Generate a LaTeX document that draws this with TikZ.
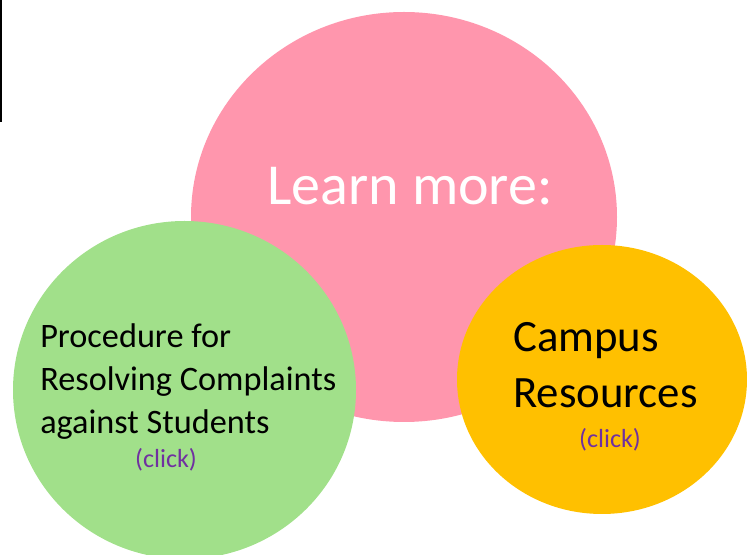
\documentclass[tikz,border=0pt]{standalone}
\usepackage{fontspec}
\setmainfont{Carlito}
\usepackage{tikz}
\usetikzlibrary{positioning}
\definecolor{pinkfill}{RGB}{255,150,173}
\definecolor{greenfill}{RGB}{161,224,138}
\definecolor{goldfill}{RGB}{255,192,0}
\definecolor{clickpurple}{RGB}{112,48,160}

\begin{document}
\begin{tikzpicture}[x=0.75pt, y=-0.75pt,
  label/.style={inner sep=0pt, align=left},
  clicktext/.style={inner sep=0pt, anchor=base, text=clickpurple, font=\fontsize{19.6}{23}\selectfont}]
\useasboundingbox (0,0) rectangle (747,555);
\draw[line width=1.5pt] (0.75,0)--(0.75,122);
% the three bubbles
\fill[pinkfill] (404,217) ellipse [x radius=213, y radius=205];
\fill[greenfill] (184.5,390) ellipse [x radius=171.5, y radius=169];
\fill[goldfill] (602,379.5) ellipse [x radius=145, y radius=134.5];
% base anchor of a multi-line node sits on its last line
\node[label, anchor=base, text=white, font=\fontsize{43.5}{50}\selectfont] (learn) at (410,205) {Learn more:};
\node[label, anchor=base west, font=\fontsize{25.7}{32.25}\selectfont] (proc) at (40,433.3) {Procedure for\\Resolving Complaints\\against Students};
\node[clicktext] (procclick) at (166,468) {(click)};
\node[label, anchor=base west, font=\fontsize{33.6}{42}\selectfont] (campus) at (513,408) {Campus\\Resources};
\node[clicktext] (campusclick) at (610,448) {(click)};
\end{tikzpicture}
\end{document}
